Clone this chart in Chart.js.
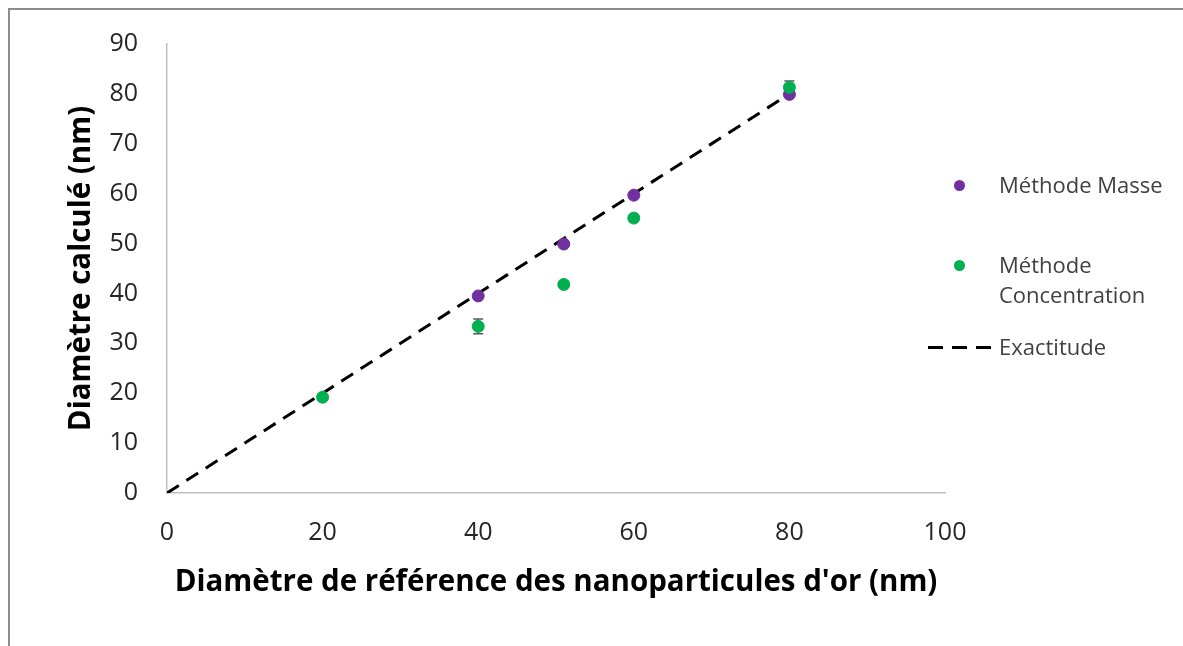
<!DOCTYPE html>
<html>
<head>
<meta charset="utf-8">
<script src="https://cdn.jsdelivr.net/npm/chart.js@4/dist/chart.umd.min.js"></script>
<style>
    body { margin: 0; background: #fff; font-family: 'Open Sans', sans-serif; }
    #wrap { position: relative; width: 1183px; height: 646px; overflow: hidden; }
    #frame { position: absolute; left: 8px; top: 8px; width: 1300px; height: 800px;
        border-left: 2px solid #8c8c8c; border-top: 2px solid #8c8c8c; }
    #chart { position: absolute; left: 0; top: 0; }
    .legend { position: absolute; font-size: 22px; color: #404040; line-height: 30px; }
    .dot { position: absolute; width: 11px; height: 11px; border-radius: 50%; }
    .dash { position: absolute; height: 3px; width: 15px; background: #000; }
</style>
</head>
<body>
<div id="wrap">
    <div id="frame"></div>
    <canvas id="chart" width="1183" height="646"></canvas>
    <div class="dot" style="left:954px;top:180px;background:#7030a0"></div>
    <div class="legend" style="left:999px;top:169px">Méthode Masse</div>
    <div class="dot" style="left:954px;top:260px;background:#00b050"></div>
    <div class="legend" style="left:999px;top:249px">Méthode<br>Concentration</div>
    <div class="dash" style="left:928px;top:346px"></div>
    <div class="dash" style="left:952px;top:346px"></div>
    <div class="dash" style="left:976px;top:346px"></div>
    <div class="legend" style="left:999px;top:331px">Exactitude</div>
</div>
<script>
// diamètre de référence (nm) / diamètre calculé (nm)
const refMasse = [40, 51, 60, 80];
const calcMasse = [39.5, 49.9, 59.7, 79.9];

const refConc = [20, 40, 51, 60, 80];
const calcConc = [19.2, 33.4, 41.8, 55.1, 81.3];
const errConc = [0.3, 1.5, 0.4, 0.6, 1.3];

const refExact = [0, 80];
const calcExact = [0, 80];

const toPoints = (xs, ys) => xs.map((x, i) => ({ x: x, y: ys[i] }));

// barres d'erreur sous les points verts
const errorBars = {
    id: 'errorBars',
    beforeDatasetsDraw(chart) {
        const ctx = chart.ctx;
        const xs = chart.scales.x;
        const ys = chart.scales.y;
        ctx.save();
        ctx.strokeStyle = '#595959';
        ctx.lineWidth = 1.5;
        refConc.forEach(function (r, i) {
            const px = xs.getPixelForValue(r);
            const top = ys.getPixelForValue(calcConc[i] + errConc[i]);
            const bot = ys.getPixelForValue(calcConc[i] - errConc[i]);
            ctx.beginPath();
            ctx.moveTo(px, top);
            ctx.lineTo(px, bot);
            ctx.moveTo(px - 5, top);
            ctx.lineTo(px + 5, top);
            ctx.moveTo(px - 5, bot);
            ctx.lineTo(px + 5, bot);
            ctx.stroke();
        });
        ctx.restore();
    },
};

new Chart(document.getElementById('chart').getContext('2d'), {
    type: 'scatter',
    data: {
        datasets: [
            {
                label: 'Méthode Concentration',
                data: toPoints(refConc, calcConc),
                backgroundColor: '#00b050',
                borderColor: '#00b050',
                pointRadius: 6,
                order: 0,
            },
            {
                label: 'Méthode Masse',
                data: toPoints(refMasse, calcMasse),
                backgroundColor: '#7030a0',
                borderColor: '#7030a0',
                pointRadius: 6,
                order: 1,
            },
            {
                label: 'Exactitude',
                data: toPoints(refExact, calcExact),
                showLine: true,
                borderColor: '#000',
                borderWidth: 3,
                borderDash: [14, 9],
                pointRadius: 0,
                order: 2,
            },
        ],
    },
    options: {
        responsive: false,
        animation: false,
        layout: { padding: { left: 50, right: 238, top: 42, bottom: 30 } },
        plugins: { legend: { display: false }, tooltip: { enabled: false } },
        scales: {
            x: {
                type: 'linear',
                min: 0,
                max: 100,
                ticks: { stepSize: 20, padding: 25, color: '#262626', font: { family: 'Open Sans', size: 25 } },
                grid: { drawOnChartArea: false, drawTicks: false },
                border: { color: '#bfbfbf', width: 1.5 },
                title: {
                    display: true,
                    text: "Diamètre de référence des nanoparticules d'or (nm)",
                    color: '#000',
                    font: { family: 'Open Sans', size: 29.5, weight: 'bold' },
                    padding: { top: 16, bottom: 16 },
                },
                afterFit: (scale) => { scale.height = 123; },
            },
            y: {
                min: 0,
                max: 90,
                ticks: { stepSize: 10, padding: 29, color: '#262626', font: { family: 'Open Sans', size: 25 } },
                grid: { drawOnChartArea: false, drawTicks: false },
                border: { color: '#bfbfbf', width: 1.5 },
                title: {
                    display: true,
                    text: 'Diamètre calculé (nm)',
                    color: '#000',
                    font: { family: 'Open Sans', size: 29.5, weight: 'bold' },
                    padding: { top: 14, bottom: 14 },
                },
                afterFit: (scale) => { scale.width = 117; },
            },
        },
    },
    plugins: [errorBars],
});
</script>
</body>
</html>
